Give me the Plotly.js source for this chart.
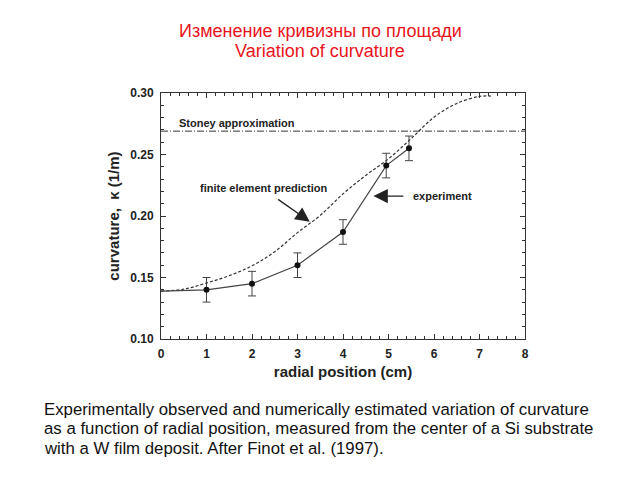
<!DOCTYPE html>
<html>
<head>
<meta charset="utf-8">
<script src="https://cdn.plot.ly/plotly-3.0.1.min.js"></script>
<style>
  html, body { margin: 0; padding: 0; background: #fff; }
  #chart { width: 640px; height: 480px; }
</style>
</head>
<body>
<div id="chart"></div>
<script>
// experiment points (radial position, cm / curvature, 1/m)
const expX = [1, 2, 3, 4, 4.95, 5.45];
const expY = [0.14, 0.145, 0.16, 0.187, 0.241, 0.255];
const expErr = [0.01, 0.01, 0.01, 0.01, 0.01, 0.01];
// the solid line starts at the centre of the substrate
const expStartX = 0;
const expStartY = 0.139;

// finite element prediction (dashed curve)
const feX = [0, 0.5, 1, 1.5, 2, 2.5, 3, 3.5, 4, 4.5, 5, 5.5, 6, 6.5, 7, 7.25];
const feY = [0.139, 0.1405, 0.1455, 0.1515, 0.1595, 0.171, 0.1865, 0.2005,
             0.218, 0.233, 0.2465, 0.263, 0.2803, 0.2915, 0.2972, 0.2975];

// Stoney approximation (constant)
const stoneyX = [0, 8];
const stoneyY = [0.269, 0.269];

const xTicks = [0, 1, 2, 3, 4, 5, 6, 7, 8];
const yTicks = [0.10, 0.15, 0.20, 0.25, 0.30];

const titleLines = ['Изменение кривизны по площади', 'Variation of curvature'];
const captionLines = [
  'Experimentally observed and numerically estimated variation of curvature',
  'as a function of radial position, measured from the center of a Si substrate',
  'with a W film deposit. After Finot et al. (1997).'
];

const ink = '#333';
const font = 'Arial, "Liberation Sans", sans-serif';

const data = [
  {
    x: stoneyX, y: stoneyY,
    mode: 'lines', type: 'scatter',
    line: { color: ink, width: 1, dash: '7px,2px,1px,2px' },
    hoverinfo: 'skip'
  },
  {
    x: feX, y: feY,
    mode: 'lines', type: 'scatter',
    line: { color: ink, width: 1.2, dash: '3px,2px', shape: 'spline', smoothing: 1 }
  },
  {
    x: [expStartX].concat(expX), y: [expStartY].concat(expY),
    mode: 'lines', type: 'scatter',
    line: { color: '#444', width: 1.2 }
  },
  {
    x: expX, y: expY,
    mode: 'markers', type: 'scatter',
    marker: { color: '#111', size: 6 },
    error_y: { type: 'data', array: expErr, color: '#444', thickness: 1, width: 4 }
  }
];

const annFont = { family: font, size: 11, color: '#222', weight: 'bold' };

// pixel row/column -> paper coords (plot area spans rows 93..339, cols 161..525)
const py = row => (339 - row) / 246;
const px = col => (col - 161) / 364;

const annotations = [
  {
    x: 0.35, y: 0.2756, xref: 'x', yref: 'y',
    text: 'Stoney approximation', showarrow: false,
    xanchor: 'left', yanchor: 'middle', font: annFont
  },
  {
    x: 0.82, y: 0.2228, xref: 'x', yref: 'y',
    text: 'finite element prediction', showarrow: false,
    xanchor: 'left', yanchor: 'middle', font: annFont
  },
  {
    x: 5.50, y: 0.2160, xref: 'x', yref: 'y',
    text: 'experiment', showarrow: false,
    xanchor: 'left', yanchor: 'middle', font: annFont
  },
  {
    x: 3.27, y: 0.1954, xref: 'x', yref: 'y',
    ax: 2.54, ay: 0.2144, axref: 'x', ayref: 'y',
    text: '', showarrow: true,
    arrowhead: 2, arrowsize: 2.2, arrowwidth: 1.3, arrowcolor: '#222'
  },
  {
    x: 4.67, y: 0.2162, xref: 'x', yref: 'y',
    ax: 5.36, ay: 0.2162, axref: 'x', ayref: 'y',
    text: '', showarrow: true,
    arrowhead: 2, arrowsize: 2.2, arrowwidth: 1.3, arrowcolor: '#222'
  }
];

titleLines.forEach((t, i) => annotations.push({
  x: px(320), xref: 'paper', xanchor: 'center',
  y: py(31 + i * 20), yref: 'paper', yanchor: 'middle',
  text: t, showarrow: false,
  font: { family: font, size: 18, color: '#e8141c' }
}));

captionLines.forEach((t, i) => annotations.push({
  x: px(42), xref: 'paper', xanchor: 'left', align: 'left',
  y: py(409 + i * 19.5), yref: 'paper', yanchor: 'middle',
  text: t, showarrow: false,
  font: { family: font, size: 16.8, color: '#111' }
}));

const layout = {
  width: 640, height: 480,
  margin: { l: 161, r: 115, t: 93, b: 141 },
  paper_bgcolor: '#fff', plot_bgcolor: '#fff',
  showlegend: false,
  font: { family: font, color: '#222' },
  xaxis: {
    range: [0, 8],
    tickmode: 'array', tickvals: xTicks, ticktext: xTicks.map(String),
    ticks: 'inside', ticklen: 5, tickcolor: ink,
    minor: { dtick: 0.2, ticks: 'inside', ticklen: 3, tickcolor: ink },
    showline: true, linecolor: ink, linewidth: 1, mirror: 'allticks',
    showgrid: false, zeroline: false,
    tickfont: { family: font, size: 12, color: '#222', weight: 'bold' },
    ticklabelstandoff: 4,
    title: {
      text: 'radial position (cm)',
      font: { family: font, size: 15, color: '#222', weight: 'bold' },
      standoff: 6
    }
  },
  yaxis: {
    range: [0.10, 0.30],
    tickmode: 'array', tickvals: yTicks, ticktext: yTicks.map(v => v.toFixed(2)),
    ticks: 'inside', ticklen: 5, tickcolor: ink,
    minor: { dtick: 0.01, ticks: 'inside', ticklen: 3, tickcolor: ink },
    showline: true, linecolor: ink, linewidth: 1, mirror: 'allticks',
    showgrid: false, zeroline: false,
    tickfont: { family: font, size: 12, color: '#222', weight: 'bold' },
    ticklabelstandoff: 4,
    title: {
      text: 'curvature,  κ (1/m)',
      font: { family: font, size: 15, color: '#222', weight: 'bold' },
      standoff: 6
    }
  },
  annotations: annotations
};

Plotly.newPlot('chart', data, layout, { displayModeBar: false, responsive: false });
</script>
</body>
</html>
